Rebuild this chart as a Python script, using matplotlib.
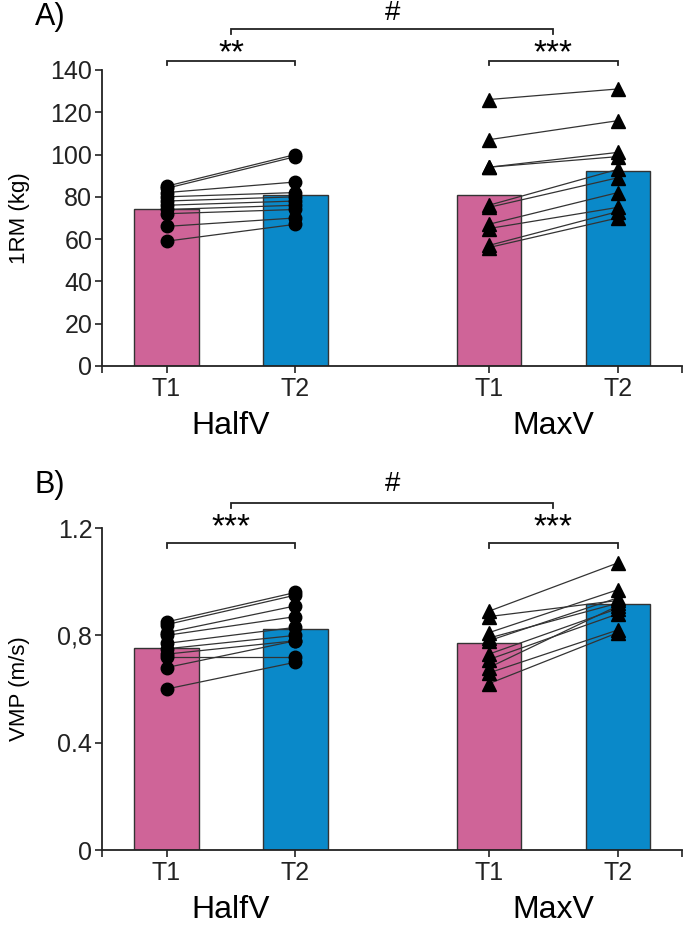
import matplotlib

matplotlib.use("Agg")
import matplotlib.pyplot as plt

plt.rcParams["font.family"] = ["Liberation Sans", "DejaVu Sans"]

# x positions of the four bars (HalfV T1/T2, MaxV T1/T2)
x_pos = [0.0, 1.0, 2.5, 3.5]
tick_labels = ["T1", "T2", "T1", "T2"]
groups = ["HalfV", "MaxV"]
group_x = [0.5, 3.0]

# panel A: 1RM (kg)
rm_means = [74, 81, 81, 92]
rm_half_t1 = [85, 84, 82, 80, 78, 76, 74, 72, 66, 59]
rm_half_t2 = [100, 99, 87, 82, 80, 78, 76, 74, 70, 67]
rm_max_t1 = [126, 107, 94, 94, 76, 75, 67, 65, 57, 56]
rm_max_t2 = [131, 116, 101, 99, 93, 89, 82, 75, 73, 70]

# panel B: VMP (m/s)
vmp_means = [0.752, 0.825, 0.771, 0.918]
vmp_half_t1 = [0.85, 0.84, 0.81, 0.80, 0.77, 0.75, 0.73, 0.72, 0.68, 0.60]
vmp_half_t2 = [0.96, 0.95, 0.91, 0.87, 0.83, 0.80, 0.78, 0.72, 0.78, 0.70]
vmp_max_t1 = [0.89, 0.87, 0.81, 0.79, 0.78, 0.73, 0.71, 0.68, 0.66, 0.62]
vmp_max_t2 = [1.07, 0.93, 0.97, 0.92, 0.94, 0.90, 0.88, 0.91, 0.82, 0.81]

PINK = "#CF6498"
BLUE = "#0A89C9"
EDGE = "#333333"


def bracket(ax, x0, x1, y, drop, text, text_y, fs):
    ax.plot([x0, x0, x1, x1], [y - drop, y, y, y - drop], color="#222222", lw=1.3,
            clip_on=False, solid_joinstyle="miter")
    ax.text((x0 + x1) / 2, text_y, text, ha="center", va="center", fontsize=fs,
            clip_on=False)


def panel(ax, means, half_t1, half_t2, max_t1, max_t2, ylim, yticks, yticklabels, ylabel):
    ax.bar(x_pos, means, width=0.5, color=[PINK, BLUE, PINK, BLUE], edgecolor=EDGE,
           linewidth=1.0, zorder=1)
    for (xa, xb), (ya, yb), mk, ms in [((x_pos[0], x_pos[1]), (half_t1, half_t2), "o", 9),
                                        ((x_pos[2], x_pos[3]), (max_t1, max_t2), "^", 10)]:
        for a, b in zip(ya, yb):
            ax.plot([xa, xb], [a, b], color="#333333", lw=0.9, zorder=2)
        ax.plot([xa] * len(ya), ya, ls="none", marker=mk, ms=ms, color="black", zorder=3)
        ax.plot([xb] * len(yb), yb, ls="none", marker=mk, ms=ms, color="black", zorder=3)
    ax.set_xlim(-0.5, 4.0)
    ax.set_ylim(*ylim)
    ax.set_yticks(yticks)
    ax.set_yticklabels(yticklabels)
    ax.set_xticks([-0.5] + x_pos + [4.0])
    ax.set_xticklabels([""] + tick_labels + [""])
    ax.tick_params(axis="both", length=5, width=1.2, direction="out", colors="#222222")
    ax.tick_params(axis="y", labelsize=18, pad=2)
    ax.tick_params(axis="x", labelsize=18, pad=3)
    ax.spines["top"].set_visible(False)
    ax.spines["right"].set_visible(False)
    for s in ("left", "bottom"):
        ax.spines[s].set_linewidth(1.3)
        ax.spines[s].set_color("#222222")
    ax.set_ylabel(ylabel, fontsize=16)
    ax.yaxis.set_label_coords(-0.125, 0.5)
    for gx, g in zip(group_x, groups):
        ax.annotate(g, xy=(gx, 0), xycoords=("data", "axes fraction"), xytext=(0, -43),
                    textcoords="offset points", ha="center", va="center", fontsize=23)


fig = plt.figure(figsize=(6.85, 9.3), dpi=100)
ax_a = fig.add_axes([0.149, 0.6065, 0.847, 0.3183])
ax_b = fig.add_axes([0.149, 0.086, 0.847, 0.3462])

panel(ax_a, rm_means, rm_half_t1, rm_half_t2, rm_max_t1, rm_max_t2, (0, 140),
      [0, 20, 40, 60, 80, 100, 120, 140], ["0", "20", "40", "60", "80", "100", "120", "140"],
      "1RM (kg)")
bracket(ax_a, 0, 1, 144.3, 2.2, "**", 147.5, 24)
bracket(ax_a, 2.5, 3.5, 144.3, 2.2, "***", 147.5, 24)
bracket(ax_a, 0.5, 3.0, 159.2, 2.2, "#", 167, 20)

panel(ax_b, vmp_means, vmp_half_t1, vmp_half_t2, vmp_max_t1, vmp_max_t2, (0, 1.2),
      [0, 0.4, 0.8, 1.2], ["0", "0.4", "0,8", "1.2"], "VMP (m/s)")
bracket(ax_b, 0, 1, 1.144, 0.02, "***", 1.200, 24)
bracket(ax_b, 2.5, 3.5, 1.144, 0.02, "***", 1.200, 24)
bracket(ax_b, 0.5, 3.0, 1.295, 0.02, "#", 1.366, 20)

fig.text(0.051, 1 - 16.7 / 930, "A)", fontsize=22, va="center", ha="left")
fig.text(0.051, 1 - 485 / 930, "B)", fontsize=22, va="center", ha="left")

fig.savefig("out.png", dpi=100)
